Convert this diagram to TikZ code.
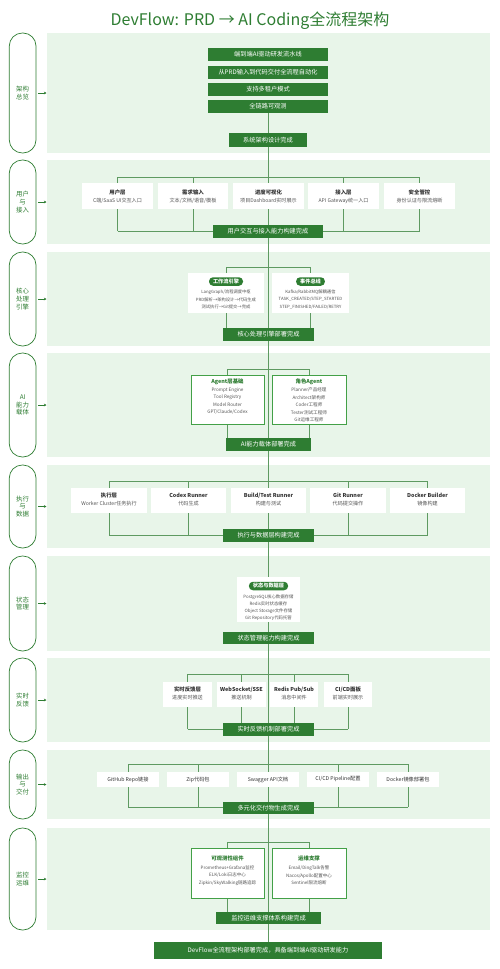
\documentclass[tikz,border=0pt]{standalone}
\usepackage{fontspec}
\setmainfont{Noto Sans CJK SC}
\usetikzlibrary{arrows.meta}
\definecolor{dg}{HTML}{2E7D32}
\definecolor{panelc}{HTML}{E8F5E9}
\definecolor{lc}{HTML}{5E9A61}
\definecolor{bc}{HTML}{43A047}
\definecolor{tc}{HTML}{333333}
\definecolor{sc}{HTML}{555555}
\pgfdeclarelayer{back}
\pgfdeclarelayer{lines}
\pgfsetlayers{back,lines,main}
\newcommand\rbox[7]{\node[#1, minimum width={(#5-#3)*1pt}, minimum height={(#6-#4)*1pt}] (#2) at ({(#3+#5)/2},{(#4+#6)/2}) {#7};}
\tikzset{
  panel/.style={fill=panelc, draw=none, inner sep=0},
  pill/.style={draw=dg, line width=0.7pt, fill=white, rounded corners=13pt, inner sep=0, text=dg, font=\fontsize{6.4}{7.6}\selectfont, align=center},
  gbox/.style={fill=dg, text=white, inner sep=0, font=\fontsize{6.2}{7}\selectfont},
  wbox/.style={fill=white, inner sep=0},
  bbox/.style={fill=white, draw=bc, line width=0.8pt, inner sep=0},
  tt/.style={font=\bfseries\fontsize{5.4}{6}\selectfont, text=tc, inner sep=0},
  st/.style={font=\fontsize{5.1}{6}\selectfont, text=sc, inner sep=0},
  gt/.style={font=\bfseries\fontsize{5.4}{6}\selectfont, text=dg, inner sep=0},
  small/.style={font=\fontsize{4.3}{7.5}\selectfont, text=sc, inner sep=0, align=center},
  tag/.style={fill=dg, text=white, rounded corners=4pt, font=\bfseries\fontsize{5.2}{6}\selectfont, inner xsep=4pt, inner ysep=0, minimum height=8.5pt},
  conn/.style={draw=lc, line width=0.7pt},
  arr/.style={draw=dg, line width=0.7pt, -{Stealth[length=2.6pt,width=2.6pt]}}
}
\begin{document}
\begin{tikzpicture}[x=1pt,y=-1pt]
\useasboundingbox (0,0) rectangle (500,969);
\node[font=\fontsize{16}{19}\selectfont, text=dg, inner sep=0] (title) at (250,21) {DevFlow: PRD → AI Coding全流程架构};

% panels and left labels
\begin{pgfonlayer}{back}
\rbox{panel}{p1}{46.7}{33}{490}{153}{}
\rbox{panel}{p2}{46.7}{160}{490}{244}{}
\rbox{panel}{p3}{46.7}{252}{490}{346}{}
\rbox{panel}{p4}{46.7}{353}{490}{457}{}
\rbox{panel}{p5}{46.7}{465}{490}{548}{}
\rbox{panel}{p6}{46.7}{556}{490}{651}{}
\rbox{panel}{p7}{46.7}{658}{490}{742}{}
\rbox{panel}{p8}{46.7}{750}{490}{819}{}
\rbox{panel}{p9}{46.7}{828}{490}{930}{}
\end{pgfonlayer}
\rbox{pill}{l1}{9.3}{33}{36}{153}{架构\\总览}
\rbox{pill}{l2}{9.3}{160}{36}{244}{用户\\与\\接入}
\rbox{pill}{l3}{9.3}{252}{36}{346}{核心\\处理\\引擎}
\rbox{pill}{l4}{9.3}{353}{36}{457}{AI\\能力\\载体}
\rbox{pill}{l5}{9.3}{465}{36}{548}{执行\\与\\数据}
\rbox{pill}{l6}{9.3}{556}{36}{651}{状态\\管理}
\rbox{pill}{l7}{9.3}{658}{36}{742}{实时\\反馈}
\rbox{pill}{l8}{9.3}{750}{36}{819}{输出\\与\\交付}
\rbox{pill}{l9}{9.3}{828}{36}{930}{监控\\运维}
\foreach \i in {1,...,9} {\draw[arr] ([xshift=2pt]l\i.east) -- (p\i.west);}

% S1
\rbox{gbox}{g1a}{208}{48}{328}{61}{端到端AI驱动研发流水线}
\rbox{gbox}{g1b}{208}{66}{328}{79}{从PRD输入到代码交付全流程自动化}
\rbox{gbox}{g1c}{208}{83}{328}{96}{支持多租户模式}
\rbox{gbox}{g1d}{208}{100}{328}{113}{全链路可观测}
\rbox{gbox}{done1}{229}{133}{307}{147}{系统架构设计完成}

% S2
\rbox{wbox}{u1}{82}{183}{153}{209}{}
\rbox{wbox}{u2}{158}{183}{228}{209}{}
\rbox{wbox}{u3}{233}{183}{304}{209}{}
\rbox{wbox}{u4}{308}{183}{379}{209}{}
\rbox{wbox}{u5}{384}{183}{455}{209}{}
\node[tt] (u1t) at (u1 |- 0,192) {用户层};
\node[st] (u1s) at (u1 |- 0,200.5) {C端/SaaS UI交互入口};
\node[tt] (u2t) at (u2 |- 0,192) {需求输入};
\node[st] (u2s) at (u2 |- 0,200.5) {文本/文档/语音/模板};
\node[tt] (u3t) at (u3 |- 0,192) {进度可视化};
\node[st] (u3s) at (u3 |- 0,200.5) {项目Dashboard实时展示};
\node[tt] (u4t) at (u4 |- 0,192) {接入层};
\node[st] (u4s) at (u4 |- 0,200.5) {API Gateway统一入口};
\node[tt] (u5t) at (u5 |- 0,192) {安全管控};
\node[st] (u5s) at (u5 |- 0,200.5) {身份认证与限流熔断};
\rbox{gbox}{done2}{213}{225}{323}{238}{用户交互与接入能力构建完成}
\coordinate (t2) at (268,177);
\coordinate (b2) at (268,231);

% S3
\rbox{wbox}{e1}{188}{273}{264}{313}{}
\rbox{wbox}{e2}{272}{273}{349}{313}{}
\node[tag] (e1t) at (e1 |- 0,281.5) {工作流引擎};
\node[tag] (e2t) at (e2 |- 0,281.5) {事件总线};
\node[small] (e1x) at (e1 |- 0,299.5) {LangGraph/流程调度中枢\\PRD解析→架构设计→代码生成\\测试执行→Git提交→完成};
\node[small] (e2x) at (e2 |- 0,299.5) {Kafka/RabbitMQ解耦通信\\TASK\_CREATED/STEP\_STARTED\\STEP\_FINISHED/FAILED/RETRY};
\rbox{gbox}{done3}{223}{328}{314}{341}{核心处理引擎部署完成}
\coordinate (t3) at (268,267);

% S4
\rbox{bbox}{a1}{191}{375}{264}{424}{}
\rbox{bbox}{a2}{272}{375}{346}{424}{}
\node[gt] (a1t) at (a1 |- 0,382) {Agent层基础};
\node[gt] (a2t) at (a2 |- 0,382) {角色Agent};
\node[small, font=\fontsize{4.6}{7.5}\selectfont] (a1x) at (a1 |- 0,401.25) {Prompt Engine\\Tool Registry\\Model Router\\GPT/Claude/Codex};
\node[small, font=\fontsize{4.6}{7.5}\selectfont] (a2x) at (a2 |- 0,405) {Planner产品经理\\Architect架构师\\Coder工程师\\Tester测试工程师\\Git运维工程师};
\rbox{gbox}{done4}{226}{438}{311}{451}{AI能力载体部署完成}
\coordinate (t4) at (268,369);

% S5
\rbox{wbox}{x1}{71}{488}{147}{513}{}
\rbox{wbox}{x2}{151}{488}{226}{513}{}
\rbox{wbox}{x3}{231}{488}{306}{513}{}
\rbox{wbox}{x4}{310}{488}{386}{513}{}
\rbox{wbox}{x5}{390}{488}{465}{513}{}
\node[tt] (x1t) at (x1 |- 0,495.5) {执行层};
\node[st] (x1s) at (x1 |- 0,504) {Worker Cluster任务执行};
\node[tt] (x2t) at (x2 |- 0,495.5) {Codex Runner};
\node[st] (x2s) at (x2 |- 0,504) {代码生成};
\node[tt] (x3t) at (x3 |- 0,495.5) {Build/Test Runner};
\node[st] (x3s) at (x3 |- 0,504) {构建与测试};
\node[tt] (x4t) at (x4 |- 0,495.5) {Git Runner};
\node[st] (x4s) at (x4 |- 0,504) {代码提交操作};
\node[tt] (x5t) at (x5 |- 0,495.5) {Docker Builder};
\node[st] (x5s) at (x5 |- 0,504) {镜像构建};
\rbox{gbox}{done5}{223}{529}{314}{542}{执行与数据层构建完成}
\coordinate (t5) at (268,481);
\coordinate (b5) at (268,535);

% S6
\rbox{wbox}{d1}{237}{577}{300}{622}{}
\node[tag] (d1t) at (d1 |- 0,586) {状态与数据层};
\node[small, font=\fontsize{4.4}{7.1}\selectfont] (d1x) at (d1 |- 0,607.5) {PostgreSQL核心数据存储\\Redis实时状态缓存\\Object Storage文件存储\\Git Repository代码托管};
\rbox{gbox}{done6}{223}{632}{314}{644}{状态管理能力构建完成}

% S7
\rbox{wbox}{f1}{163}{682}{212}{707}{}
\rbox{wbox}{f2}{217}{682}{266}{707}{}
\rbox{wbox}{f3}{270}{682}{318}{707}{}
\rbox{wbox}{f4}{324}{682}{372}{707}{}
\node[tt] (f1t) at (f1 |- 0,689.5) {实时反馈层};
\node[st] (f1s) at (f1 |- 0,698) {进度实时推送};
\node[tt] (f2t) at (f2 |- 0,689.5) {WebSocket/SSE};
\node[st] (f2s) at (f2 |- 0,698) {推送机制};
\node[tt] (f3t) at (f3 |- 0,689.5) {Redis Pub/Sub};
\node[st] (f3s) at (f3 |- 0,698) {消息中间件};
\node[tt] (f4t) at (f4 |- 0,689.5) {CI/CD面板};
\node[st] (f4s) at (f4 |- 0,698) {前端实时展示};
\rbox{gbox}{done7}{223}{723}{314}{736}{实时反馈机制部署完成}
\coordinate (t7) at (268,674);
\coordinate (b7) at (268,729);

% S8
\rbox{wbox, font=\fontsize{5.2}{6}\selectfont, text=tc}{o1}{97}{772}{159}{787}{GitHub Repo链接}
\rbox{wbox, font=\fontsize{5.2}{6}\selectfont, text=tc}{o2}{167}{772}{229}{787}{Zip代码包}
\rbox{wbox, font=\fontsize{5.2}{6}\selectfont, text=tc}{o3}{237}{772}{299}{787}{Swagger API文档}
\rbox{wbox, font=\fontsize{5.2}{6}\selectfont, text=tc}{o4}{307}{772}{369}{787}{CI/CD Pipeline配置}
\rbox{wbox, font=\fontsize{5.2}{6}\selectfont, text=tc}{o5}{377}{772}{439}{787}{Docker镜像部署包}
\rbox{gbox}{done8}{223}{802}{314}{814}{多元化交付物生成完成}
\coordinate (t8) at (268,764);
\coordinate (b8) at (268,807);

% S9
\rbox{bbox}{m1}{191}{848}{264}{898}{}
\rbox{bbox}{m2}{272}{848}{346}{898}{}
\node[gt] (m1t) at (m1 |- 0,858) {可观测性组件};
\node[gt] (m2t) at (m2 |- 0,858) {运维支撑};
\node[small, font=\fontsize{4.5}{7.5}\selectfont] (m1x) at (m1 |- 0,875.5) {Prometheus+Grafana监控\\ELK/Loki日志中心\\Zipkin/SkyWalking链路追踪};
\node[small, font=\fontsize{4.5}{7.5}\selectfont] (m2x) at (m2 |- 0,875.5) {Email/DingTalk告警\\Nacos/Apollo配置中心\\Sentinel限流熔断};
\rbox{gbox}{done9}{216}{912}{321}{924}{监控运维支撑体系构建完成}
\coordinate (t9) at (268,842);

% final
\rbox{gbox}{fin}{154}{942}{382}{959}{DevFlow全流程架构部署完成，具备端到端AI驱动研发能力}

% connectors
\begin{pgfonlayer}{lines}
% spine
\draw[conn] (g1d.south) -- (g1d.south |- done1.north);
\foreach \a/\b in {done1/done2,done2/done3,done3/done4,done4/done5,done5/done6,done6/done7,done7/done8,done8/done9,done9/fin}
  {\draw[conn] (\a.south) -- (\a.south |- \b.north);}
% S2
\draw[conn] (u1 |- t2) -- (u5 |- t2);
\draw[conn] (u1 |- b2) -- (u5 |- b2);
\foreach \n in {u1,u2,u3,u4,u5} {\draw[conn] (\n |- t2) -- (\n |- b2);}
% S3
\draw[conn] (e1 |- t3) -- (e2 |- t3);
\foreach \n in {e1,e2} {\draw[conn] (\n |- t3) -- (\n |- done3.north);}
% S4
\draw[conn] (a1 |- t4) -- (a2 |- t4);
\foreach \n in {a1,a2} {\draw[conn] (\n |- t4) -- (\n |- done4.north);}
% S5
\draw[conn] (x1 |- t5) -- (x5 |- t5);
\draw[conn] (x1 |- b5) -- (x5 |- b5);
\foreach \n in {x1,x2,x3,x4,x5} {\draw[conn] (\n |- t5) -- (\n |- b5);}
% S7
\draw[conn] (f1 |- t7) -- (f4 |- t7);
\draw[conn] (f1 |- b7) -- (f4 |- b7);
\foreach \n in {f1,f2,f3,f4} {\draw[conn] (\n |- t7) -- (\n |- b7);}
% S8
\draw[conn] (o1 |- t8) -- (o5 |- t8);
\draw[conn] (o1 |- b8) -- (o5 |- b8);
\foreach \n in {o1,o2,o3,o4,o5} {\draw[conn] (\n |- t8) -- (\n |- b8);}
% S9
\draw[conn] (m1 |- t9) -- (m2 |- t9);
\foreach \n in {m1,m2} {\draw[conn] (\n |- t9) -- (\n |- done9.north);}
\end{pgfonlayer}
\end{tikzpicture}
\end{document}
